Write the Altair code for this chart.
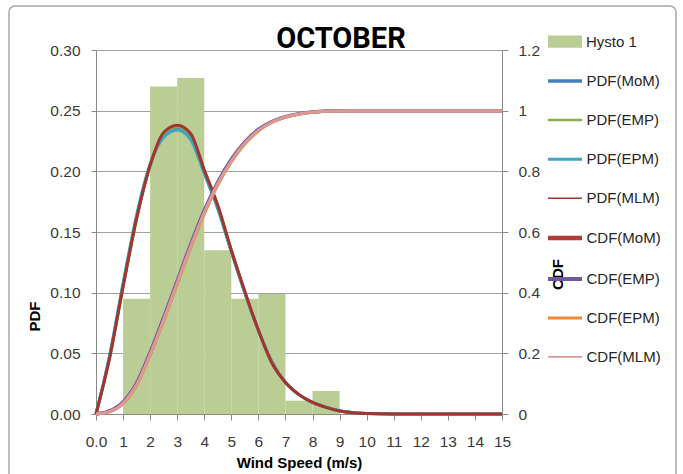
import altair as alt
import pandas as pd

# ---------------- data ----------------
x_pts = [0, 0.5, 1, 1.5, 2, 2.5, 3, 3.5, 4, 4.5, 5, 5.5, 6, 6.5, 7, 7.5, 8, 8.5, 9, 9.5, 10, 11, 12, 13, 14, 15]

pdf_mom = [0, 0.047, 0.106, 0.162, 0.205, 0.229, 0.235, 0.228, 0.200, 0.170, 0.134, 0.100, 0.069, 0.043, 0.026, 0.016, 0.0095, 0.0055, 0.0026, 0.0011, 0.0004, 0, 0, 0, 0, 0]
pdf_emp = [0, 0.046, 0.105, 0.161, 0.205, 0.231, 0.237, 0.230, 0.201, 0.171, 0.135, 0.100, 0.069, 0.042, 0.026, 0.016, 0.0095, 0.0055, 0.0025, 0.0010, 0.0004, 0, 0, 0, 0, 0]
pdf_epm = [0, 0.048, 0.108, 0.164, 0.206, 0.228, 0.234, 0.226, 0.198, 0.169, 0.134, 0.100, 0.069, 0.043, 0.026, 0.016, 0.0096, 0.0056, 0.0026, 0.0011, 0.0004, 0, 0, 0, 0, 0]
pdf_mlm = [0, 0.046, 0.105, 0.161, 0.205, 0.232, 0.238, 0.231, 0.201, 0.172, 0.135, 0.101, 0.069, 0.042, 0.026, 0.016, 0.0095, 0.0055, 0.0025, 0.0010, 0.0004, 0, 0, 0, 0, 0]

cdf_mom = [0, 0.009, 0.037, 0.098, 0.198, 0.312, 0.433, 0.554, 0.665, 0.760, 0.836, 0.894, 0.936, 0.963, 0.979, 0.989, 0.995, 0.998, 0.999, 1.0, 1.0, 1.0, 1.0, 1.0, 1.0, 1.0]
cdf_emp = [0, 0.010, 0.040, 0.102, 0.203, 0.318, 0.439, 0.560, 0.671, 0.765, 0.840, 0.897, 0.938, 0.964, 0.980, 0.990, 0.996, 0.999, 1.0, 1.0, 1.0, 1.0, 1.0, 1.0, 1.0, 1.0]
cdf_epm = [0, 0.007, 0.034, 0.094, 0.193, 0.306, 0.427, 0.548, 0.659, 0.755, 0.831, 0.890, 0.933, 0.961, 0.978, 0.988, 0.995, 0.998, 0.999, 1.0, 1.0, 1.0, 1.0, 1.0, 1.0, 1.0]
cdf_mlm = [0, 0.008, 0.036, 0.097, 0.197, 0.311, 0.432, 0.553, 0.664, 0.759, 0.835, 0.893, 0.935, 0.962, 0.979, 0.989, 0.995, 0.998, 0.999, 1.0, 1.0, 1.0, 1.0, 1.0, 1.0, 1.0]

bin_start = [1, 2, 3, 4, 5, 6, 7, 8]
bin_end = [2, 3, 4, 5, 6, 7, 8, 9]
hysto = [0.095, 0.270, 0.277, 0.135, 0.095, 0.099, 0.011, 0.019]

hist_name = "Hysto 1"
hist_color = "#BACD95"
line_names = ["PDF(MoM)", "PDF(EMP)", "PDF(EPM)", "PDF(MLM)",
              "CDF(MoM)", "CDF(EMP)", "CDF(EPM)", "CDF(MLM)"]
line_colors = ["#4A7EBB", "#8DB04E", "#3FA5C2", "#A3342E",
               "#B03C36", "#7058A0", "#EE8A3A", "#D99A97"]
legend_widths = [3.5, 2.5, 3, 1.5, 4.5, 4, 3, 1.8]

# ---------------- tables ----------------
pdf_sets = {"PDF(MoM)": pdf_mom, "PDF(EMP)": pdf_emp, "PDF(EPM)": pdf_epm, "PDF(MLM)": pdf_mlm}
cdf_sets = {"CDF(MoM)": cdf_mom, "CDF(EMP)": cdf_emp, "CDF(EPM)": cdf_epm, "CDF(MLM)": cdf_mlm}

df_pdf = pd.DataFrame([{"x": x, "value": v, "series": k}
                       for k, vals in pdf_sets.items() for x, v in zip(x_pts, vals)])
df_cdf = pd.DataFrame([{"x": x, "value": v, "series": k}
                       for k, vals in cdf_sets.items() for x, v in zip(x_pts, vals)])
df_hist = pd.DataFrame({"x": bin_start, "b1": bin_end, "h": hysto,
                        "base": [0] * len(hysto), "series": hist_name})

FONT = "Liberation Sans"
LABEL_COLOR = "#3a3a3a"
AXIS_GRAY = "#8a8a8a"

common_legend = dict(title=None, orient="none", direction="vertical", padding=0,
                     symbolSize=1156, labelFont=FONT, labelFontSize=15,
                     labelColor="#262626", labelLimit=200, symbolOpacity=1)

hist_legend = alt.Legend(legendX=452, legendY=-25.3, symbolType="M-1,-0.36H1V0.36H-1Z",
                         symbolStrokeWidth=0, rowPadding=5, labelOffset=4, **common_legend)
line_legend = alt.Legend(legendX=449.5, legendY=12, symbolType="stroke", rowPadding=12.4,
                         labelOffset=2, **common_legend)

FILL = alt.Fill("series:N", scale=alt.Scale(domain=[hist_name], range=[hist_color]), legend=hist_legend)
STROKE = alt.Stroke("series:N", scale=alt.Scale(domain=line_names, range=line_colors), legend=line_legend)
SWIDTH = alt.StrokeWidth("series:N", scale=alt.Scale(type="ordinal", domain=line_names, range=legend_widths),
                         legend=line_legend)

X = alt.X("x:Q", scale=alt.Scale(domain=[0, 15], nice=False, zero=False),
          axis=alt.Axis(title="Wind Speed (m/s)", values=list(range(16)), format="d",
                        labelExpr="datum.value == 0 ? '0.0' : datum.label",
                        grid=False, tickSize=6, tickColor=AXIS_GRAY, domainColor=AXIS_GRAY,
                        labelPadding=14, labelFont=FONT, labelFontSize=15.5, labelColor=LABEL_COLOR,
                        labelFlush=False, labelOverlap=False,
                        titleFont=FONT, titleFontSize=15, titleFontWeight="bold", titleColor="black",
                        titleY=53, titleBaseline="alphabetic"))

left_axis = alt.Axis(title="PDF", orient="left", values=[0, 0.05, 0.1, 0.15, 0.2, 0.25, 0.3], format=".2f",
                     grid=True, gridColor="#a0a0a0", gridWidth=1, domainColor=AXIS_GRAY, tickColor=AXIS_GRAY,
                     tickSize=5, labelPadding=11, labelFont=FONT, labelFontSize=15.5, labelColor=LABEL_COLOR,
                     titleFont=FONT, titleFontSize=15, titleFontWeight="bold", titleColor="black",
                     titleAngle=270, titleX=-62, titleY=266, titleAlign="center", titleBaseline="middle")

right_axis = alt.Axis(title="CDF", orient="right", values=[0, 0.2, 0.4, 0.6, 0.8, 1.0, 1.2], format=".1~f",
                      grid=False, domainColor=AXIS_GRAY, tickColor=AXIS_GRAY,
                      tickSize=6, labelPadding=10, labelFont=FONT, labelFontSize=15.5, labelColor=LABEL_COLOR,
                      titleFont=FONT, titleFontSize=15, titleFontWeight="bold", titleColor="black",
                      titleAngle=270, titleX=55, titleY=224, titleAlign="center", titleBaseline="middle")

pdf_scale = alt.Scale(domain=[0, 0.3], nice=False)
cdf_scale = alt.Scale(domain=[0, 1.2], nice=False)

hist = alt.Chart(df_hist).mark_rect(strokeWidth=0).encode(
    x=X, x2="b1:Q",
    y=alt.Y("h:Q", scale=pdf_scale, axis=left_axis), y2="base:Q",
    fill=FILL,
)


def line_layer(df, name, y, width):
    return alt.Chart(df).transform_filter(alt.datum.series == name).mark_line(
        interpolate="monotone", strokeWidth=width
    ).encode(x=X, y=y, stroke=STROKE)


Y_PDF = alt.Y("value:Q", scale=pdf_scale, axis=left_axis)
Y_CDF = alt.Y("value:Q", scale=cdf_scale, axis=right_axis)

pdf_layers = [line_layer(df_pdf, "PDF(MoM)", Y_PDF, 3),
              line_layer(df_pdf, "PDF(EMP)", Y_PDF, 3),
              line_layer(df_pdf, "PDF(EPM)", Y_PDF, 3),
              line_layer(df_pdf, "PDF(MLM)", Y_PDF, 3)]
cdf_layers = [line_layer(df_cdf, "CDF(MoM)", Y_CDF, 3),
              line_layer(df_cdf, "CDF(EMP)", Y_CDF, 3.5),
              line_layer(df_cdf, "CDF(EPM)", Y_CDF, 3),
              line_layer(df_cdf, "CDF(MLM)", Y_CDF, 3)]

# carries the legend line widths only; draws nothing
legend_carrier = alt.Chart(df_cdf).transform_filter("false").mark_line().encode(
    x=X, y=Y_CDF, stroke=STROKE, strokeWidth=SWIDTH)

inner = alt.layer(hist, *pdf_layers)
outer_cdf = alt.layer(*cdf_layers, legend_carrier)

frame = alt.Chart(pd.DataFrame({"d": [0]})).mark_rect(
    fillOpacity=0, stroke="#a6a6a6", strokeWidth=1.5, cornerRadius=6
).encode(x=alt.value(-87), x2=alt.value(580), y=alt.value(-44), y2=alt.value(440))

title = alt.Chart(pd.DataFrame({"t": ["OCTOBER"]})).mark_text(
    font="Roboto", fontSize=29, fontWeight="bold", align="center",
    baseline="alphabetic", color="black"
).encode(text="t:N", x=alt.value(245), y=alt.value(-1.7))

chart = alt.layer(frame, inner, outer_cdf, title).resolve_scale(y="independent").properties(
    width=406, height=364,
    padding={"left": 96, "top": 50, "right": 181, "bottom": 60},
    autosize=alt.AutoSizeParams(type="none"),
    background="white",
).configure_view(stroke=None)

chart.save("out.html", embed_options={"renderer": "svg", "actions": False})
